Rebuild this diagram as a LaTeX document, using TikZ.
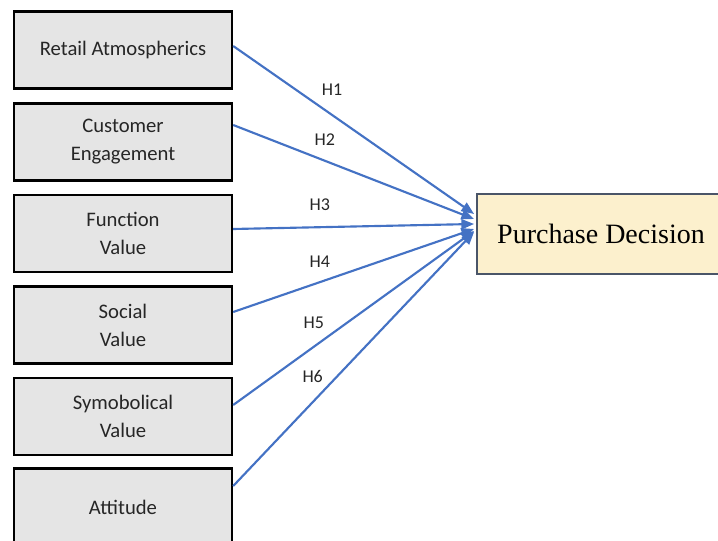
\documentclass[tikz,border=0pt]{standalone}
\usepackage{fontspec}
\setmainfont{Carlito}
\newfontfamily\serifface{Liberation Serif}
\usetikzlibrary{arrows.meta,calc}

\definecolor{hypblue}{HTML}{4472C4}
\definecolor{outfill}{HTML}{FCF0CD}
\definecolor{outline}{HTML}{4A5568}

\tikzset{
  factor/.style={draw=black, line width=1.8pt, fill=black!10,
    minimum width=163.5pt, minimum height=57.75pt, align=center,
    text=black!85, font=\fontsize{15.5}{21}\selectfont},
  outcome/.style={draw=outline, line width=1.4pt, fill=outfill,
    minimum width=186pt, minimum height=60pt,
    font=\serifface\fontsize{21}{24}\selectfont},
  hyp/.style={draw=hypblue, line width=1.6pt,
    -{Triangle[length=9.5pt,width=7.5pt]}},
  hlabel/.style={text=black!85, font=\fontsize{13.5}{15}\selectfont}
}

\begin{document}
\begin{tikzpicture}[x=0.75pt,y=-0.75pt]
  \clip (0,0) rectangle (718,541);

  % the six factors
  \node[factor] (ra)  at (123,50)    {Retail Atmospherics};
  \node[factor] (ce)  at (123,142)   {Customer\\Engagement};
  \node[factor] (fv)  at (123,233.5) {Function\\Value};
  \node[factor] (sv)  at (123,325)   {Social\\Value};
  \node[factor] (syv) at (123,416.5) {Symobolical\\Value};
  \node[factor] (att) at (123,507)   {Attitude};

  % outcome
  \node[outcome] (pd) at (601,234) {Purchase Decision};

  % hypotheses
  \draw[hyp] ($(ra.east)+(0,-4)$)    -- ($(pd.west)+(-2,-20)$)
    node[hlabel,pos=.41,yshift=19pt] {H1};
  \draw[hyp] ($(ce.east)+(0,-17)$)   -- ($(pd.west)+(-2,-15)$)
    node[hlabel,pos=.38,yshift=16pt] {H2};
  \draw[hyp] ($(fv.east)+(0,-4.5)$)  -- ($(pd.west)+(-2,-10)$)
    node[hlabel,pos=.36,yshift=16.5pt] {H3};
  \draw[hyp] ($(sv.east)+(0,-13)$)   -- ($(pd.west)+(-2,-5)$)
    node[hlabel,pos=.36,yshift=15pt] {H4};
  \draw[hyp] ($(syv.east)+(0,-11.5)$) -- ($(pd.west)+(-2,-3)$)
    node[hlabel,pos=.335,yshift=18pt] {H5};
  \draw[hyp] ($(att.east)+(0,-21)$)  -- ($(pd.west)+(-2,-2)$)
    node[hlabel,pos=.33,yshift=19pt] {H6};
\end{tikzpicture}
\end{document}
